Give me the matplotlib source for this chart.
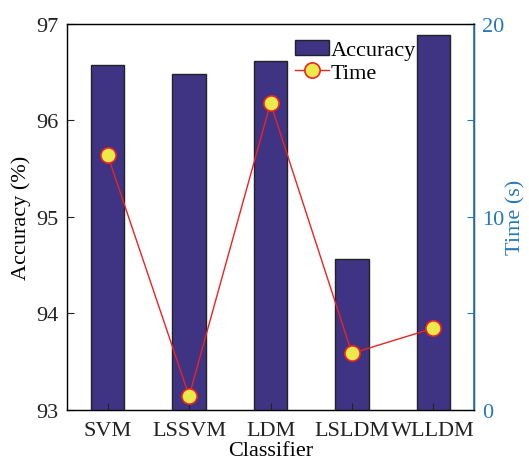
import numpy as np
import matplotlib.pyplot as plt

plt.rcParams['font.family'] = ['Liberation Serif', 'DejaVu Serif']
plt.rcParams['font.size'] = 16

classifiers = ['SVM', 'LSSVM', 'LDM', 'LSLDM', 'WLLDM']
accuracy = [96.57, 96.48, 96.61, 94.56, 96.88]
time_s = [13.17, 0.70, 15.88, 2.91, 4.21]

bar_col = '#3f3483'
blue = '#2678b8'

fig = plt.figure(figsize=(5.29, 4.6), dpi=100)
ax = fig.add_axes([0.1267, 0.1076, 0.7693, 0.8391])
x = np.arange(1, len(classifiers) + 1)

bars = ax.bar(x, accuracy, width=0.41, color=bar_col, edgecolor='#222222',
              linewidth=1.0, label='Accuracy')
ax.set_xlim(0.5, 5.5)
ax.set_ylim(93, 97)
ax.set_yticks([93, 94, 95, 96, 97])
ax.set_xticks(x)
ax.set_xticklabels(classifiers)
ax.tick_params(direction='in', length=5, width=0.8, colors='#222222', pad=6)
ax.tick_params(axis='x', pad=8)
ax.set_ylabel('Accuracy (%)', labelpad=4)
ax.set_xlabel('Classifier', labelpad=1)
for s in ax.spines.values():
    s.set_linewidth(1.0)
    s.set_color('#222222')

ax2 = ax.twinx()
ln, = ax2.plot(x, time_s, '-o', color='#ee2222', linewidth=1.0,
               markersize=11, markerfacecolor='#ece94a',
               markeredgecolor='#ee2222', markeredgewidth=1.2, label='Time')
ax2.set_ylim(0, 20)
ax2.set_yticks([0, 5, 10, 15, 20])
ax2.set_yticklabels(['0', '', '10', '', '20'])
ax2.tick_params(axis='y', direction='in', length=5, width=0.8, colors=blue,
                labelcolor=blue, pad=6)
ax2.spines['right'].set_color(blue)
ax2.spines['right'].set_linewidth(1.2)
ax2.set_ylabel('Time (s)', color=blue, labelpad=1)

ax2.legend([bars, ln], ['Accuracy', 'Time'], loc='upper left',
           bbox_to_anchor=(0.528, 0.993), frameon=False, handlelength=1.5,
           handletextpad=0.1, borderpad=0.1, labelspacing=0.1, fontsize=16)

fig.savefig('out.png', dpi=100)
